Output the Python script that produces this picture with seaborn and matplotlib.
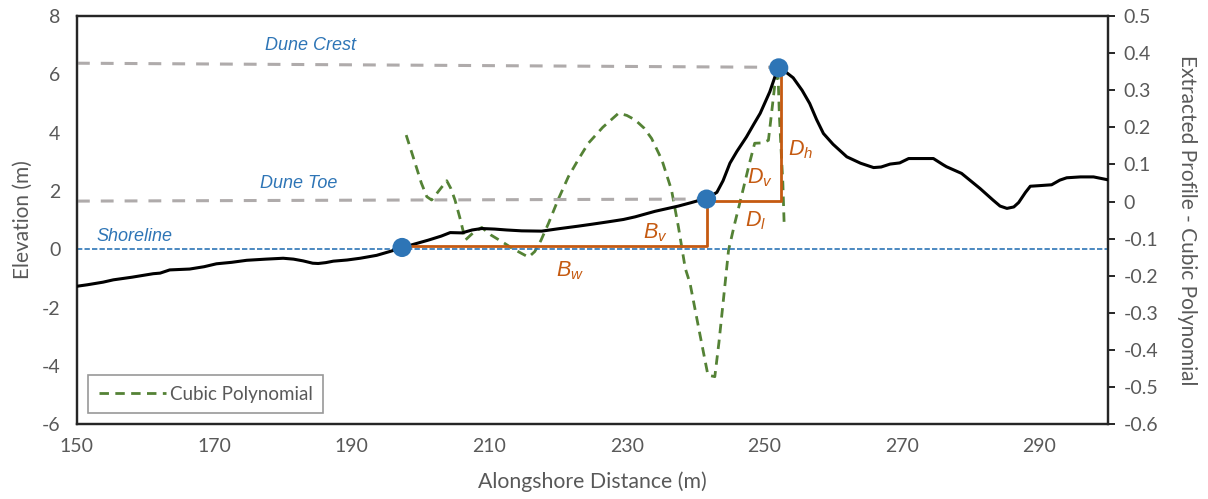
import numpy as np
import pandas as pd
import matplotlib
matplotlib.use("Agg")
import matplotlib.pyplot as plt
from matplotlib.lines import Line2D
from matplotlib.ticker import FuncFormatter
import seaborn as sns

# ---------------- data ----------------
profile_x = [150, 151.5, 153.8, 155.3, 158, 161.1, 162.1, 163.5, 166.4, 168.5, 170.3, 172.5,
             174.7, 177.5, 180.0, 181.5, 182.9, 184.3, 185.1, 186.2, 187.3, 189.3, 191.2,
             193.6, 195.5, 197.3, 199.0, 201.1, 203.0, 204.3, 206.0, 207.5, 208.9, 210.8,
             212.5, 214.7, 217.6, 220.0, 222.9, 225.0, 227.3, 229.5, 231.2, 234.1, 237.5,
             239.4, 240.6, 241.6, 243.1, 244.0, 245.0, 246.0, 247.4, 248.5, 249.4, 250.8,
             251.6, 252.2, 253.0, 254.2, 255.5, 256.6, 257.6, 258.6, 260.0, 262.0, 264.0,
             265.9, 267.0, 268.3, 269.7, 271.0, 274.6, 276.0, 276.5, 278.7, 280.0, 281.4,
             283.3, 284.3, 285.3, 286.3, 287.0, 288.0, 288.7, 290.0, 291.8, 293.0, 294.0,
             296.0, 297.9, 300.0]
profile_z = [-1.27, -1.22, -1.13, -1.05, -0.96, -0.84, -0.82, -0.71, -0.68, -0.60, -0.50, -0.45,
             -0.38, -0.34, -0.31, -0.34, -0.40, -0.48, -0.49, -0.46, -0.41, -0.37, -0.31,
             -0.21, -0.08, 0.05, 0.17, 0.31, 0.45, 0.57, 0.56, 0.66, 0.71, 0.69,
             0.66, 0.63, 0.62, 0.70, 0.79, 0.86, 0.94, 1.02, 1.11, 1.30, 1.48,
             1.60, 1.68, 1.74, 1.95, 2.35, 2.95, 3.35, 3.85, 4.30, 4.66, 5.40,
             5.95, 6.22, 6.10, 5.88, 5.45, 5.00, 4.45, 3.97, 3.60, 3.17, 2.95,
             2.80, 2.82, 2.92, 2.96, 3.11, 3.11, 2.90, 2.83, 2.60, 2.35, 2.08,
             1.68, 1.48, 1.40, 1.45, 1.60, 1.95, 2.16, 2.18, 2.21, 2.37, 2.45,
             2.48, 2.48, 2.38]

resid_x = [197.9, 199.0, 200.1, 200.9, 201.6, 202.7, 203.8, 204.4, 205.0, 205.8, 206.5, 207.6,
           208.9, 210.2, 211.8, 213.5, 215.7, 216.6, 217.5, 218.6, 220.0, 221.5, 223.0, 224.4,
           226.5, 228.8, 230.0, 231.2, 232.5, 233.6, 235.1, 236.5, 237.5, 238.5, 239.2, 240.6,
           241.8, 242.8, 243.4, 244.0, 244.8, 245.7, 246.9, 247.8, 248.6, 249.8, 250.6, 251.0,
           251.5, 252.0, 252.2, 252.5, 252.7, 252.9]
resid_v = [0.179, 0.115, 0.050, 0.013, 0.004, 0.030, 0.056, 0.035, 0.004, -0.050, -0.104, -0.085,
           -0.070, -0.090, -0.108, -0.128, -0.150, -0.135, -0.105, -0.059, 0.005, 0.067, 0.115, 0.157,
           0.200, 0.238, 0.232, 0.220, 0.198, 0.170, 0.112, 0.031, -0.068, -0.180, -0.221, -0.355,
           -0.468, -0.472, -0.380, -0.274, -0.131, -0.059, 0.031, 0.100, 0.157, 0.158, 0.165, 0.229,
           0.310, 0.341, 0.229, 0.120, 0.049, -0.068]

feature_names = ["Shoreline", "Dune Toe", "Dune Crest"]
feature_x = [197.3, 241.6, 252.1]
feature_z = [0.06, 1.72, 6.22]

crest_line_x = [150, 251.0]
crest_line_z = [6.38, 6.24]
toe_line_x = [150, 240.5]
toe_line_z = [1.65, 1.72]

bw_x = [197.3, 241.6, 241.6]
bw_z = [0.10, 0.10, 1.72]
dl_x = [241.6, 252.5, 252.5]
dl_z = [1.65, 1.65, 6.15]

left_ticks = [-6, -4, -2, 0, 2, 4, 6, 8]
right_ticks = [-0.6, -0.5, -0.4, -0.3, -0.2, -0.1, 0, 0.1, 0.2, 0.3, 0.4, 0.5]
x_ticks = [150, 170, 190, 210, 230, 250, 270, 290]

# ---------------- style ----------------
sns.set_theme(style="white")
plt.rcParams["font.family"] = ["Lato", "DejaVu Sans"]
plt.rcParams["axes.unicode_minus"] = False
plt.rcParams["mathtext.fontset"] = "custom"
plt.rcParams["mathtext.it"] = "Liberation Sans:italic"
plt.rcParams["mathtext.rm"] = "Liberation Sans"

GRAY_TXT = "#595959"
BLUE = "#2E75B6"
ORANGE = "#C55A11"
GREEN = "#548235"
DGRAY = "#AFABAB"

fig = plt.figure(figsize=(12.08, 4.99), dpi=100)
ax = fig.add_axes([0.0637, 0.150, 0.9172 - 0.0637, 0.968 - 0.150])
ax2 = ax.twinx()
ax.set_zorder(ax2.get_zorder() + 1)
ax.patch.set_visible(False)

df_prof = pd.DataFrame({"x": profile_x, "z": profile_z})
df_res = pd.DataFrame({"x": resid_x, "v": resid_v})
df_feat = pd.DataFrame({"x": feature_x, "z": feature_z, "name": feature_names})

line_kw = dict(estimator=None, sort=False)

# shoreline
ax.axhline(0, color=BLUE, lw=1.2, dashes=(3.2, 1.3), zorder=1)
# reference gray dashed
sns.lineplot(x=crest_line_x, y=crest_line_z, ax=ax, color=DGRAY, lw=2.2, zorder=1, **line_kw)
ax.lines[-1].set_dashes((4.2, 3.6))
sns.lineplot(x=toe_line_x, y=toe_line_z, ax=ax, color=DGRAY, lw=2.2, zorder=1, **line_kw)
ax.lines[-1].set_dashes((4.2, 3.6))

# residual (right axis)
sns.lineplot(data=df_res, x="x", y="v", ax=ax2, color=GREEN, lw=2.0, zorder=2, **line_kw)
ax2.lines[-1].set_dashes((3.4, 2.3))

# profile
sns.lineplot(data=df_prof, x="x", y="z", ax=ax, color="black", lw=2.2, zorder=3, **line_kw)

# orange measurement lines
sns.lineplot(x=bw_x, y=bw_z, ax=ax, color=ORANGE, lw=2.0, zorder=4, **line_kw)
sns.lineplot(x=dl_x, y=dl_z, ax=ax, color=ORANGE, lw=2.0, zorder=4, **line_kw)

# feature points
sns.scatterplot(data=df_feat, x="x", y="z", ax=ax, color=BLUE, s=190, edgecolor="none", zorder=5, legend=False)

# feature labels
lab_kw = dict(color=BLUE, style="italic", fontsize=13, family="Liberation Sans", ha="center", va="center")
ax.text(184.0, 6.97, "Dune Crest", **lab_kw)
ax.text(182.2, 2.26, "Dune Toe", **lab_kw)
ax.text(158.4, 0.45, "Shoreline", **lab_kw)

sym_kw = dict(color=ORANGE, fontsize=15.5, ha="center", va="center")
ax.text(221.8, -0.75, "$B_w$", **sym_kw)
ax.text(234.2, 0.58, "$B_v$", **sym_kw)
ax.text(248.7, 0.99, "$D_l$", **sym_kw)
ax.text(249.4, 2.44, "$D_v$", **sym_kw)
ax.text(255.3, 3.40, "$D_h$", **sym_kw)

# axes
ax.set_xlim(150, 300)
ax.set_ylim(-6, 8)
ax2.set_ylim(-0.6, 0.5)
ax.set_xticks(x_ticks)
ax.set_yticks(left_ticks)
ax2.set_yticks(right_ticks)
ax2.yaxis.set_major_formatter(FuncFormatter(lambda v, p: "0" if abs(v) < 1e-9 else f"{v:.1f}"))

ax.set_xlabel("Alongshore Distance (m)", fontsize=15.3, color=GRAY_TXT, labelpad=12)
ax.set_ylabel("Elevation (m)", fontsize=15, color=GRAY_TXT, labelpad=6)
ax2.set_ylabel("Extracted Profile - Cubic Polynomial", fontsize=15, color=GRAY_TXT,
               rotation=270, labelpad=28)

for a in (ax, ax2):
    for s in a.spines.values():
        s.set_color("#262626")
        s.set_linewidth(1.6)
ax.tick_params(axis="both", which="both", length=0, labelsize=14, colors=GRAY_TXT, pad=10)
ax.tick_params(axis="y", pad=12)
ax2.tick_params(axis="y", length=5, width=1.4, color="#262626", labelsize=14,
                labelcolor=GRAY_TXT, pad=6, direction="out")
ax2.set_xlabel("")
ax.grid(False)
ax2.grid(False)

handle = Line2D([0], [0], color=GREEN, lw=2.0, dashes=(3.4, 2.3))
leg = ax.legend([handle], ["Cubic Polynomial"], loc="lower left", bbox_to_anchor=(0.0, 0.0),
                frameon=True, fancybox=False, fontsize=13.5, handlelength=3.6,
                borderpad=0.55, handletextpad=0.2, borderaxespad=0.6)
leg.get_frame().set_edgecolor("#7F7F7F")
leg.get_frame().set_linewidth(1.2)
for t in leg.get_texts():
    t.set_color(GRAY_TXT)

fig.savefig("out.png", dpi=100)
